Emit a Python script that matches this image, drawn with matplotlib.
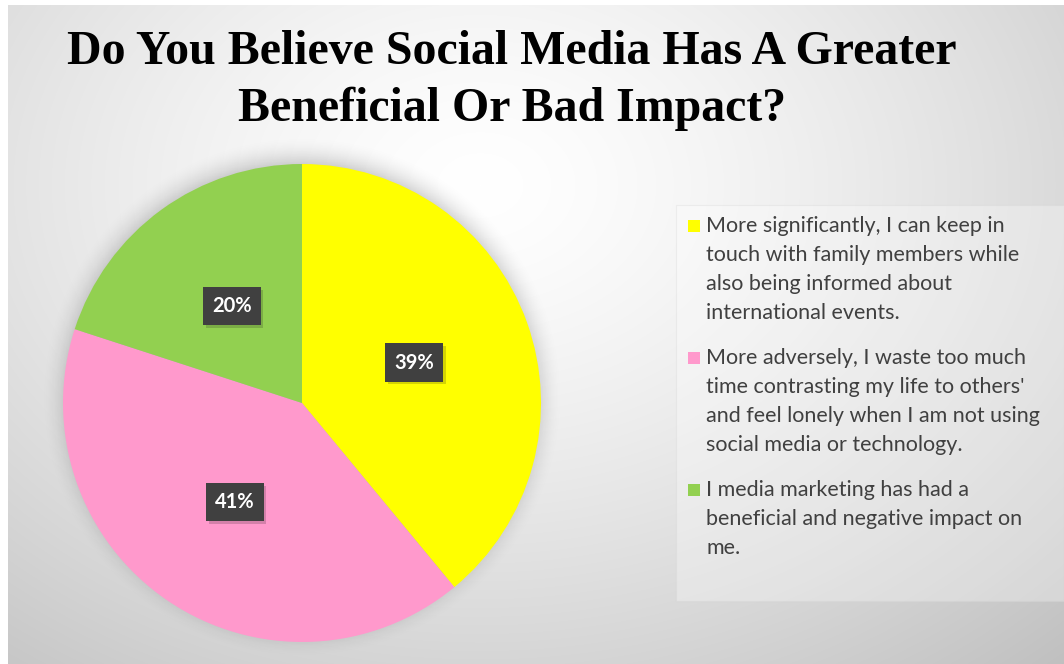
import matplotlib.pyplot as plt
import matplotlib.patheffects as pe
import numpy as np
from matplotlib.patches import Rectangle

# survey answers
answers = [
    "More significantly, I can keep in\ntouch with family members while\nalso being informed about\ninternational events.",
    "More adversely, I waste too much\ntime contrasting my life to others'\nand feel lonely when I am not using\nsocial media or technology.",
    "I media marketing has had a\nbeneficial and negative impact on\nme.",
]
shares = [39, 41, 20]
colors = ["#ffff00", "#ff99cc", "#92d050"]
title = "Do You Believe Social Media Has A Greater\nBeneficial Or Bad Impact?"

W, H = 1064, 664
fig = plt.figure(figsize=(W / 100, H / 100), dpi=100)

# grey radial background
bg = fig.add_axes([8 / W, 0, 1 - 8 / W, 1 - 5 / H])
yy, xx = np.mgrid[0:H - 5, 8:W]
d = np.hypot(xx - 480, (yy - 180) / 0.75)
shade = np.clip(1.0 - 0.25 * (d / 870) ** 1.38, 0.72, 1.0)
bg.imshow(np.dstack([shade] * 3), aspect="auto", extent=[0, 1, 0, 1])
bg.set_axis_off()

fig.text(0.481, 0.955, title, ha="center", va="top", fontsize=34.5,
         family="Liberation Serif", fontweight="bold", linespacing=1.38,
         color="black")

# pie
cx, cy, r = 302, H - 403, 239
ax = fig.add_axes([(cx - r) / W, (cy - r) / H, 2 * r / W, 2 * r / H])
ax.set_axis_off()

# soft shadow under the pie
sy, sx = np.mgrid[-1.3:1.3:400j, -1.3:1.3:400j]
rr = np.hypot(sx, sy + 0.025)
sa = 0.24 * np.clip((1.1 - rr) / 0.15, 0, 1) ** 2
shadow = np.zeros((400, 400, 4))
shadow[..., 3] = sa
ax.imshow(shadow, extent=[-1.3, 1.3, -1.3, 1.3], zorder=0, clip_on=False)

wedges, texts, autotexts = ax.pie(
    shares, colors=colors, startangle=90, counterclock=False,
    autopct="%d%%", pctdistance=0.5, radius=1,
    wedgeprops=dict(linewidth=0, zorder=2),
    textprops=dict(color="white", fontsize=14.5, fontweight="bold",
                   family="Lato"))
ax.set_xlim(-1, 1)
ax.set_ylim(-1, 1)
ax.set_aspect("equal")
for t in autotexts:
    t.set_zorder(5)
    t.set_bbox(dict(boxstyle="square,pad=0.45", facecolor="#404040",
                    edgecolor="none"))
    t.get_bbox_patch().set_path_effects(
        [pe.SimplePatchShadow(offset=(2, -2), alpha=0.18), pe.Normal()])

# legend panel
lx0, ly0, lx1, ly1 = 676, 205, W, 601
fig.patches.append(Rectangle((lx0 / W, 1 - ly1 / H), (lx1 - lx0) / W,
                             (ly1 - ly0) / H, transform=fig.transFigure,
                             facecolor="white", alpha=0.3,
                             edgecolor="#d4d4d4", linewidth=0.8))
line_h = 29
top = 226
for label, col in zip(answers, colors):
    fig.patches.append(Rectangle((688 / W, 1 - (top + 6) / H), 12 / W, 12 / H,
                                 transform=fig.transFigure, facecolor=col,
                                 edgecolor="none"))
    for i, line in enumerate(label.split("\n")):
        fig.text(706 / W, 1 - (top + i * line_h) / H, line, ha="left",
                 va="center", fontsize=15.5, family="Lato", color="#404040")
    top += (label.count("\n") + 1) * line_h + 16

fig.savefig("out.png", dpi=100)
